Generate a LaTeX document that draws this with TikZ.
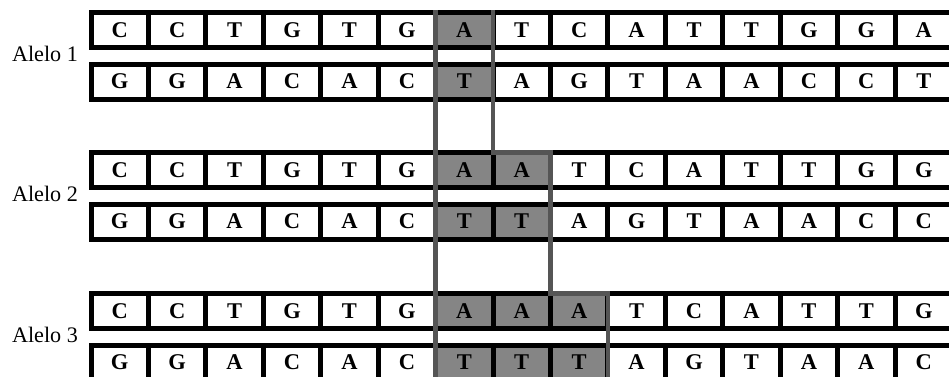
\documentclass[tikz,border=0pt]{standalone}
\usepackage{fontspec}
\setmainfont{Liberation Serif}
\usepackage{tikz}
\definecolor{cinzaCelula}{HTML}{858585}
\definecolor{cinzaContorno}{HTML}{555555}

\begin{document}
\begin{tikzpicture}[x=0.02cm,y=-0.02cm,
  base/.style={draw=black,line width=0.1cm,minimum width=1.1486cm,minimum height=0.7cm,
    inner sep=0pt,outer sep=0pt,font=\fontsize{12.8}{14}\selectfont\bfseries},
  rotulo/.style={font=\fontsize{12.6}{14}\selectfont},
  contorno/.style={cinzaContorno,line width=0.095cm,line cap=rect}]
\useasboundingbox (0,0) rectangle (949,376);
% 1) Alelo 1 (uma base marcada)
\begin{scope}[shift={(0,0)}]
\node[rotulo] (rot1) at (45,53.5) {Alelo 1};
\foreach \b [count=\i] in {C,C,T,G,T,G,A,T,C,A,T,T,G,G,A} {
  \ifnum\i=7 \def\cor{cinzaCelula}\else\def\cor{white}\fi
  \node[base,fill=\cor] (a1s1c\i) at ({62.285+57.43*\i},30) {\b};}
\foreach \b [count=\i] in {G,G,A,C,A,C,T,A,G,T,A,A,C,C,T} {
  \ifnum\i=7 \def\cor{cinzaCelula}\else\def\cor{white}\fi
  \node[base,fill=\cor] (a1s2c\i) at ({62.285+57.43*\i},81.5) {\b};}
\end{scope}
% 2) Alelo 2 (duas bases)
\begin{scope}[shift={(0,140)}]
\node[rotulo] (rot2) at (45,53.5) {Alelo 2};
\foreach \b [count=\i] in {C,C,T,G,T,G,A,A,T,C,A,T,T,G,G} {
  \def\cor{white}\ifnum\i>6 \ifnum\i<9 \def\cor{cinzaCelula}\fi\fi
  \node[base,fill=\cor] (a2s1c\i) at ({62.285+57.43*\i},30) {\b};}
\foreach \b [count=\i] in {G,G,A,C,A,C,T,T,A,G,T,A,A,C,C} {
  \def\cor{white}\ifnum\i>6 \ifnum\i<9 \def\cor{cinzaCelula}\fi\fi
  \node[base,fill=\cor] (a2s2c\i) at ({62.285+57.43*\i},81.5) {\b};}
\end{scope}
% 3) Alelo 3 (tres bases)
\begin{scope}[shift={(0,281)}]
\node[rotulo] (rot3) at (45,53.5) {Alelo 3};
\foreach \b [count=\i] in {C,C,T,G,T,G,A,A,A,T,C,A,T,T,G} {
  \def\cor{white}\ifnum\i>6 \ifnum\i<10 \def\cor{cinzaCelula}\fi\fi
  \node[base,fill=\cor] (a3s1c\i) at ({62.285+57.43*\i},30) {\b};}
\foreach \b [count=\i] in {G,G,A,C,A,C,T,T,T,A,G,T,A,A,C} {
  \def\cor{white}\ifnum\i>6 \ifnum\i<10 \def\cor{cinzaCelula}\fi\fi
  \node[base,fill=\cor] (a3s2c\i) at ({62.285+57.43*\i},81.5) {\b};}
\end{scope}
% contorno cinza da repeticao
\draw[contorno] (a1s1c7.north west) -- (a3s2c7.south west);
\draw[contorno] (a1s1c7.north east) -- (a1s1c7.north east |- a2s1c8.north)
  -- (a2s1c8.north east) -- (a2s1c8.north east |- a3s1c9.north)
  -- (a3s1c9.north east) -- (a3s2c9.south east);
\end{tikzpicture}
\end{document}
